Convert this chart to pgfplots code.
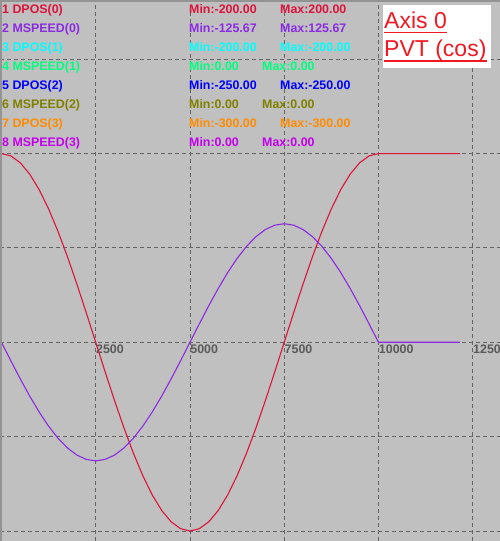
\documentclass[border=0pt]{standalone}
\usepackage{fontspec}
\setmainfont{Liberation Sans}
\usepackage{pgfplots}
\pgfplotsset{compat=1.18}
\definecolor{bg}{RGB}{192,192,192}
\definecolor{gridc}{RGB}{100,100,100}
\definecolor{tickc}{RGB}{90,90,90}
\definecolor{c1}{RGB}{220,20,60}
\definecolor{c2}{RGB}{138,43,226}
\definecolor{c3}{RGB}{0,255,255}
\definecolor{c4}{RGB}{0,255,127}
\definecolor{c5}{RGB}{0,0,255}
\definecolor{c6}{RGB}{128,128,0}
\definecolor{c7}{RGB}{255,140,0}
\definecolor{c8}{RGB}{195,0,235}
\definecolor{boxred}{RGB}{240,25,35}
\newcommand{\lf}{\fontsize{12.4bp}{14bp}\selectfont\bfseries}
\begin{document}
\begin{tikzpicture}[x=1bp,y=1bp]
\begin{axis}[
  at={(0,0)}, anchor=south west,
  scale only axis, width=500bp, height=541bp,
  xmin=-38.5, xmax=13224, ymin=-210.6, ymax=362.8,
  axis background/.style={fill=bg},
  axis x line=middle, axis y line=left,
  axis line style={draw=none},
  major tick length=0pt,
  xtick={2500,5000,7500,10000,12500},
  xticklabels={2500,5000,7500,10000,12500},
  scaled x ticks=false,
  ytick={-200,-100,0,100,200,300},
  yticklabels={},
  grid=major,
  major grid style={gridc, line width=0.9bp, dash pattern=on 3.5bp off 3.5bp},
  xticklabel style={anchor=north west, inner sep=0pt, yshift=-2.5bp, xshift=0.3bp, font=\lf, text=tickc},
]
\addplot[c1, line width=1.1bp] coordinates {
(0,200) (250,197.54) (500,190.21) (750,178.20) (1000,161.80) (1250,141.42)
(1500,117.56) (1750,90.80) (2000,61.80) (2250,31.29) (2500,0)
(2750,-31.29) (3000,-61.80) (3250,-90.80) (3500,-117.56) (3750,-141.42)
(4000,-161.80) (4250,-178.20) (4500,-190.21) (4750,-197.54) (5000,-200)
(5250,-197.54) (5500,-190.21) (5750,-178.20) (6000,-161.80) (6250,-141.42)
(6500,-117.56) (6750,-90.80) (7000,-61.80) (7250,-31.29) (7500,0)
(7750,31.29) (8000,61.80) (8250,90.80) (8500,117.56) (8750,141.42)
(9000,161.80) (9250,178.20) (9500,190.21) (9750,197.54) (10000,200)
(12160,200)
};
\addplot[c2, line width=1.1bp] coordinates {
(0,0) (250,-19.66) (500,-38.83) (750,-57.05) (1000,-73.87) (1250,-88.86)
(1500,-101.67) (1750,-111.97) (2000,-119.52) (2250,-124.12) (2500,-125.67)
(2750,-124.12) (3000,-119.52) (3250,-111.97) (3500,-101.67) (3750,-88.86)
(4000,-73.87) (4250,-57.05) (4500,-38.83) (4750,-19.66) (5000,0)
(5250,19.66) (5500,38.83) (5750,57.05) (6000,73.87) (6250,88.86)
(6500,101.67) (6750,111.97) (7000,119.52) (7250,124.12) (7500,125.67)
(7750,124.12) (8000,119.52) (8250,111.97) (8500,101.67) (8750,88.86)
(9000,73.87) (9250,57.05) (9500,38.83) (9750,19.66) (10000,0)
(12160,0)
};
\end{axis}
% frame strips
\fill[black!42] (0,539) rectangle (500,541);
\fill[black!42] (0,0) rectangle (2,541);
% legend texts
\begin{scope}[every node/.style={anchor=base west, inner sep=0pt, font=\lf}]
\node[text=c1] at (2,527) {1 DPOS(0)};
\node[text=c2] at (2,508.1) {2 MSPEED(0)};
\node[text=c3] at (2,489.2) {3 DPOS(1)};
\node[text=c4] at (2,470.3) {4 MSPEED(1)};
\node[text=c5] at (2,451.4) {5 DPOS(2)};
\node[text=c6] at (2,432.5) {6 MSPEED(2)};
\node[text=c7] at (2,413.6) {7 DPOS(3)};
\node[text=c8] at (2,394.7) {8 MSPEED(3)};
\node[text=c1] at (189,527) {Min:-200.00};
\node[text=c2] at (189,508.1) {Min:-125.67};
\node[text=c3] at (189,489.2) {Min:-200.00};
\node[text=c4] at (189,470.3) {Min:0.00};
\node[text=c5] at (189,451.4) {Min:-250.00};
\node[text=c6] at (189,432.5) {Min:0.00};
\node[text=c7] at (189,413.6) {Min:-300.00};
\node[text=c8] at (189,394.7) {Min:0.00};
\node[text=c1] at (280,527) {Max:200.00};
\node[text=c2] at (280,508.1) {Max:125.67};
\node[text=c3] at (280,489.2) {Max:-200.00};
\node[text=c4] at (262,470.3) {Max:0.00};
\node[text=c5] at (280,451.4) {Max:-250.00};
\node[text=c6] at (262,432.5) {Max:0.00};
\node[text=c7] at (280,413.6) {Max:-300.00};
\node[text=c8] at (262,394.7) {Max:0.00};
\end{scope}
% title box
\fill[white] (383,473) rectangle (491,536);
\node[anchor=base west, inner sep=0pt, text=boxred, font=\fontsize{23bp}{26bp}\selectfont] (t1) at (384,512) {Axis 0};
\node[anchor=base west, inner sep=0pt, text=boxred, font=\fontsize{23bp}{26bp}\selectfont] (t2) at (384,484) {PVT (cos)};
\draw[boxred, line width=1.3bp] ([yshift=-3.5bp]t1.base west) -- ([yshift=-3.5bp]t1.base east);
\draw[boxred, line width=1.3bp] ([yshift=-4bp]t2.base west) -- ([yshift=-4bp]t2.base east);
\pgfresetboundingbox
\useasboundingbox (0,0) rectangle (500,541);
\end{tikzpicture}
\end{document}
